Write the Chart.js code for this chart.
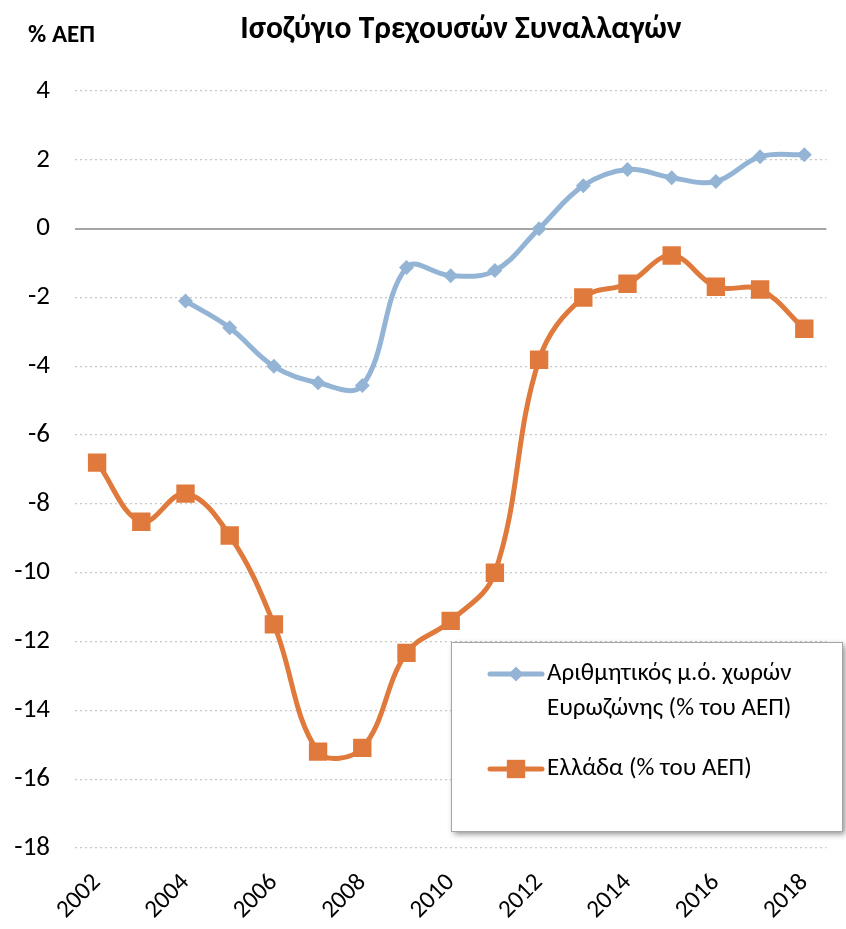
<!DOCTYPE html>
<html>
<head>
<meta charset="utf-8">
<script src="https://cdn.jsdelivr.net/npm/chart.js@4.4.1/dist/chart.umd.min.js"></script>
<style>
  html, body { margin: 0; padding: 0; background: #ffffff; }
  #wrap { position: relative; width: 846px; height: 929px; }
</style>
</head>
<body>
<div id="wrap"><canvas id="c" width="846" height="929"></canvas></div>
<script>
const years = ['2002','2003','2004','2005','2006','2007','2008','2009','2010','2011','2012','2013','2014','2015','2016','2017','2018'];
const eurozone = [null, null, -2.1, -2.88, -4.0, -4.48, -4.56, -1.13, -1.37, -1.22, 0.0, 1.25, 1.72, 1.48, 1.37, 2.09, 2.15];
const greece = [-6.8, -8.52, -7.7, -8.92, -11.5, -15.2, -15.09, -12.33, -11.4, -10.0, -3.81, -2.0, -1.6, -0.78, -1.69, -1.77, -2.91];
const yTicks = [4, 2, 0, -2, -4, -6, -8, -10, -12, -14, -16, -18];
const titleText = 'Ισοζύγιο Τρεχουσών Συναλλαγών';
const unitText = '% ΑΕΠ';
const seriesNames = [['Αριθμητικός μ.ό. χωρών', 'Ευρωζώνης (% του ΑΕΠ)'], ['Ελλάδα (% του ΑΕΠ)']];

const FONT = "Carlito, 'Open Sans', 'Noto Sans', sans-serif";
const BLUE = '#94B4D6';
const ORANGE = '#E07A3C';

const decor = {
  id: 'decor',
  afterDraw(chart) {
    const ctx = chart.ctx;
    ctx.save();
    // title
    ctx.fillStyle = '#000';
    ctx.textBaseline = 'alphabetic';
    ctx.textAlign = 'center';
    ctx.font = "bold 31.5px " + FONT;
    ctx.fillText(titleText, 461, 38);
    ctx.textAlign = 'left';
    ctx.font = "bold 25px " + FONT;
    ctx.fillText(unitText, 28, 42);

    // legend box
    const bx = 451, by = 642, bw = 391, bh = 189;
    ctx.save();
    ctx.shadowColor = 'rgba(0,0,0,0.45)';
    ctx.shadowBlur = 6;
    ctx.shadowOffsetX = 3;
    ctx.shadowOffsetY = 3;
    ctx.fillStyle = '#fff';
    ctx.fillRect(bx, by, bw, bh);
    ctx.restore();
    ctx.strokeStyle = '#a6a6a6';
    ctx.lineWidth = 1;
    ctx.strokeRect(bx + 0.5, by + 0.5, bw, bh);

    // legend entries
    const entries = [
      { color: BLUE, style: 'rectRot', r: 7.5, y: 674, lines: seriesNames[0] },
      { color: ORANGE, style: 'rect', r: 13, y: 769, lines: seriesNames[1] }
    ];
    entries.forEach(e => {
      ctx.strokeStyle = e.color;
      ctx.lineWidth = 5;
      ctx.lineCap = 'round';
      ctx.beginPath();
      ctx.moveTo(490, e.y);
      ctx.lineTo(542, e.y);
      ctx.stroke();
      ctx.fillStyle = e.color;
      Chart.helpers.drawPoint(ctx, { pointStyle: e.style, radius: e.r, borderWidth: 0 }, 516, e.y);
      ctx.fillStyle = '#000';
      ctx.font = "25px " + FONT;
      ctx.textAlign = 'left';
      ctx.textBaseline = 'middle';
      e.lines.forEach((t, i) => ctx.fillText(t, 547, e.y + i * 35));
    });
    ctx.restore();
  }
};

new Chart(document.getElementById('c'), {
  type: 'line',
  data: {
    labels: years,
    datasets: [
      {
        label: seriesNames[0].join(' '),
        data: eurozone,
        borderColor: BLUE,
        backgroundColor: BLUE,
        borderWidth: 5,
        tension: 0.38,
        pointStyle: 'rectRot',
        pointRadius: 7.5,
        pointBorderWidth: 0,
        pointBackgroundColor: BLUE,
        spanGaps: false
      },
      {
        label: seriesNames[1].join(' '),
        data: greece,
        borderColor: ORANGE,
        backgroundColor: ORANGE,
        borderWidth: 5,
        tension: 0.38,
        pointStyle: 'rect',
        pointRadius: 13,
        pointBorderWidth: 0,
        pointBackgroundColor: ORANGE
      }
    ]
  },
  options: {
    responsive: false,
    animation: false,
    devicePixelRatio: 1,
    layout: { padding: { top: 91, right: 17, left: 0, bottom: 0 } },
    plugins: {
      legend: { display: false },
      tooltip: { enabled: false },
      title: { display: false }
    },
    scales: {
      x: {
        offset: true,
        grid: { display: false, drawTicks: false },
        border: { display: false },
        ticks: {
          autoSkip: false,
          maxRotation: 45,
          minRotation: 45,
          padding: 20,
          color: '#000',
          font: { family: FONT, size: 25 },
          callback: (v, i) => (parseInt(years[i]) % 2 === 0 ? years[i] : '')
        },
        afterFit: s => { s.height = 81; }
      },
      y: {
        min: -18,
        max: 4,
        afterBuildTicks: s => { s.ticks = yTicks.map(v => ({ value: v })); },
        grid: {
          drawTicks: false,
          color: ctx => (ctx.tick && ctx.tick.value === 0 ? '#a6a6a6' : '#c8c8c8'),
          lineWidth: ctx => (ctx.tick && ctx.tick.value === 0 ? 2 : 1.2)
        },
        border: {
          display: false,
          dash: ctx => (ctx.tick && ctx.tick.value === 0 ? [] : [2, 3])
        },
        ticks: {
          padding: 25,
          color: '#000',
          font: { family: FONT, size: 27 }
        },
        afterFit: s => { s.width = 75; }
      }
    }
  },
  plugins: [decor]
});
</script>
</body>
</html>
